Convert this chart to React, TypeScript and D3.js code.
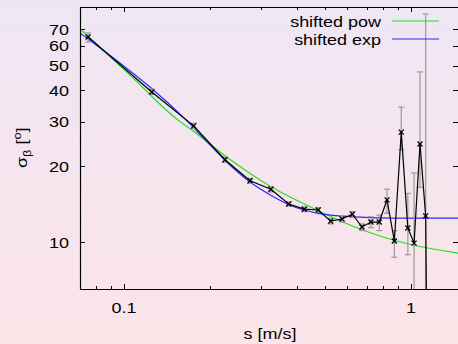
import React, { useEffect, useRef } from 'react';
import * as d3 from 'd3';

// measured points (bin centres) and their error bar ends
const speeds = [0.075, 0.125, 0.175, 0.225, 0.275, 0.325, 0.375, 0.425, 0.475, 0.525, 0.575, 0.625,
  0.675, 0.725, 0.775, 0.825, 0.875, 0.925, 0.975, 1.025, 1.075, 1.125, 1.175];
const sigma = [65.1, 39.4, 28.9, 21.2, 17.5, 16.2, 14.15, 13.5, 13.4, 12.1, 12.34, 12.9,
  11.47, 12.0, 12.0, 14.7, 10.1, 27.3, 11.36, 9.9, 24.5, 12.7, 0.05];
const sigmaLow = [62.2, 38.5, 28.2, 20.7, 17.1, 15.8, 13.9, 13.2, 13.1, 11.8, 12.0, 12.5,
  11.1, 11.4, 11.1, 13.0, 8.7, 23.2, 8.9, 1, 16.5, 1, 0.05];
const sigmaHigh = [67.5, 40.5, 29.6, 21.7, 17.9, 16.6, 14.4, 13.8, 13.7, 12.4, 12.7, 13.2,
  11.8, 12.6, 12.8, 16.2, 11.1, 34.3, 15.6, 18.8, 47.3, 80.3, 0.05];

// fit curves
const powS = [0.0703, 0.1049, 0.1542, 0.1725, 0.2285, 0.3279, 0.4446, 0.613, 0.7799, 1.016, 1.458];
const powSigma = [70.0, 46.0, 30.5, 27.8, 21.7, 16.5, 13.8, 11.68, 10.56, 9.73, 9.04];
const expS = [0.0703, 0.0968, 0.1232, 0.1631, 0.1994, 0.234, 0.2748, 0.3226, 0.3789, 0.4742, 0.613, 0.845, 1.458];
const expSigma = [67.5, 51.3, 41.2, 30.8, 24.3, 20.2, 17.3, 15.4, 14.0, 13.0, 12.62, 12.45, 12.45];

const xMajor = [0.1, 1];
const xMinor = [0.08, 0.09, 0.2, 0.3, 0.4, 0.5, 0.6, 0.7, 0.8, 0.9];
const yTicks = [10, 20, 30, 40, 50, 60, 70];

const legendNames = ['shifted pow', 'shifted exp'];
const legendColors = ['#22e022', '#2a2aff'];

const W = 458;
const H = 344;
const font = '"Liberation Sans", Arial, sans-serif';
const stretch = 1.16; // the original font runs wider than Liberation Sans

const App = () => {
  const ref = useRef<SVGSVGElement>(null);

  useEffect(() => {
    document.body.style.margin = '0';
    const svg = d3.select(ref.current);
    svg.selectAll('*').remove();

    const left = 80, right = 458, top = 7, bottom = 289;

    const x = d3.scaleLog().domain([0.0703, 1.458]).range([left, right]);
    const y = d3.scaleLog().domain([6.51, 85.6]).range([bottom, top]);

    const defs = svg.append('defs');
    const grad = defs.append('linearGradient')
      .attr('id', 'bg').attr('x1', 0).attr('y1', 0).attr('x2', 0).attr('y2', 1);
    grad.append('stop').attr('offset', '0%').attr('stop-color', '#efe6f4');
    grad.append('stop').attr('offset', '100%').attr('stop-color', '#fce4e8');
    defs.append('clipPath').attr('id', 'plot')
      .append('rect').attr('x', left).attr('y', top)
      .attr('width', right - left).attr('height', bottom - top);

    svg.append('rect').attr('width', W).attr('height', H).attr('fill', 'url(#bg)');

    // ticks on all four sides, pointing inwards
    const ticks = svg.append('g').attr('stroke', '#000').attr('stroke-width', 1);
    xMajor.forEach(t => {
      const px = Math.round(x(t)) + 0.5;
      ticks.append('line').attr('x1', px).attr('x2', px).attr('y1', bottom).attr('y2', bottom - 5);
      ticks.append('line').attr('x1', px).attr('x2', px).attr('y1', top).attr('y2', top + 5);
    });
    xMinor.forEach(t => {
      const px = Math.round(x(t)) + 0.5;
      ticks.append('line').attr('x1', px).attr('x2', px).attr('y1', bottom).attr('y2', bottom - 3);
      ticks.append('line').attr('x1', px).attr('x2', px).attr('y1', top).attr('y2', top + 3);
    });
    yTicks.forEach(t => {
      const py = Math.round(y(t)) + 0.5;
      ticks.append('line').attr('x1', left).attr('x2', left + 5).attr('y1', py).attr('y2', py);
      ticks.append('line').attr('x1', right).attr('x2', right - 5).attr('y1', py).attr('y2', py);
    });

    const labels = svg.append('g').attr('font-family', font).attr('font-size', 15.5).attr('fill', '#000');
    const put = (px: number, py: number, anchor: string, str: string | number) =>
      labels.append('text')
        .attr('transform', `translate(${px},${py}) scale(${stretch},1)`)
        .attr('text-anchor', anchor).text(str);

    yTicks.forEach(t => put(69, y(t) + 5.5, 'end', t));
    xMajor.forEach(t => put(x(t), 313, 'middle', t));
    put(270, 339, 'middle', 's [m/s]');

    const yl = labels.append('text')
      .attr('transform', `translate(27,168) rotate(-90) scale(${stretch},1)`)
      .attr('text-anchor', 'start');
    yl.append('tspan').text('σ');
    yl.append('tspan').attr('font-size', 11).attr('dy', 4).text('β');
    yl.append('tspan').attr('dy', -4).text(' [');
    yl.append('tspan').attr('font-size', 11).attr('dy', -6).text('o');
    yl.append('tspan').attr('dy', 6).text(']');

    const plot = svg.append('g').attr('clip-path', 'url(#plot)');

    // fits
    const fit = d3.line<[number, number]>()
      .x(d => x(d[0])).y(d => y(d[1]))
      .curve(d3.curveMonotoneX);
    plot.append('path')
      .datum(powS.map((s, i) => [s, powSigma[i]] as [number, number]))
      .attr('d', fit).attr('fill', 'none')
      .attr('stroke', legendColors[0]).attr('stroke-width', 1.2);
    plot.append('path')
      .datum(expS.map((s, i) => [s, expSigma[i]] as [number, number]))
      .attr('d', fit).attr('fill', 'none')
      .attr('stroke', legendColors[1]).attr('stroke-width', 1.2);

    // error bars
    const bars = plot.append('g').attr('stroke', '#9a9a9a').attr('stroke-width', 1.2);
    speeds.forEach((s, i) => {
      if (sigmaLow[i] === sigmaHigh[i]) return;
      const px = x(s);
      bars.append('line').attr('x1', px).attr('x2', px)
        .attr('y1', y(sigmaLow[i])).attr('y2', y(sigmaHigh[i]));
      [sigmaLow[i], sigmaHigh[i]].forEach(v => {
        bars.append('line').attr('x1', px - 3).attr('x2', px + 3)
          .attr('y1', y(v)).attr('y2', y(v));
      });
    });

    // data line and markers
    const line = d3.line<number>()
      .x((d, i) => x(speeds[i])).y(d => y(d));
    plot.append('path').datum(sigma).attr('d', line)
      .attr('fill', 'none').attr('stroke', '#000').attr('stroke-width', 1.2);
    const marks = plot.append('g').attr('stroke', '#000').attr('stroke-width', 1.3);
    speeds.forEach((s, i) => {
      const px = x(s), py = y(sigma[i]);
      marks.append('line').attr('x1', px - 2.5).attr('x2', px + 2.5).attr('y1', py - 2.5).attr('y2', py + 2.5);
      marks.append('line').attr('x1', px - 2.5).attr('x2', px + 2.5).attr('y1', py + 2.5).attr('y2', py - 2.5);
    });

    // frame (right side falls on the window edge)
    svg.append('path')
      .attr('d', `M${left + 0.5},${bottom + 0.5}V${top + 0.5}H${right}M${left},${bottom + 0.5}H${right}`)
      .attr('fill', 'none').attr('stroke', '#000').attr('stroke-width', 1.2);

    // legend
    legendNames.forEach((name, i) => {
      const ly = 21 + i * 18;
      put(381, ly + 5.5, 'end', name);
      svg.append('line').attr('x1', 392).attr('x2', 439).attr('y1', ly).attr('y2', ly)
        .attr('stroke', legendColors[i]).attr('stroke-width', 1.2);
    });
  }, []);

  return (
    <svg ref={ref} width={W} height={H}
      style={{ position: 'fixed', left: 0, top: 0, display: 'block' }} />
  );
};

export default App;
